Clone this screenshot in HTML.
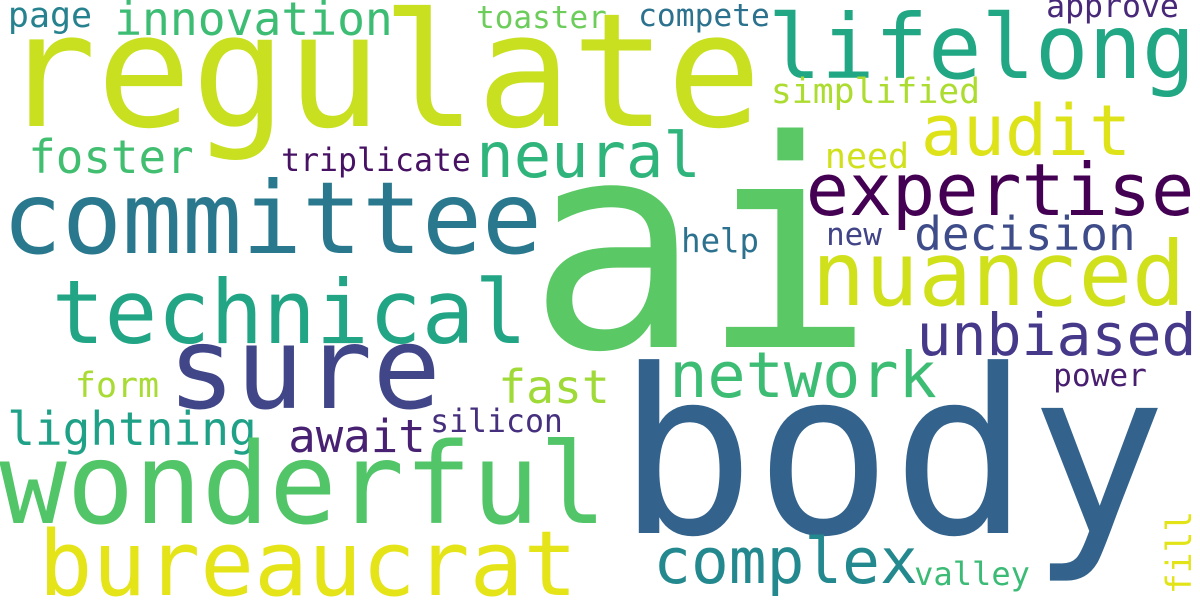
<!DOCTYPE html>
<html><head><meta charset="utf-8"><style>
html,body{margin:0;padding:0;background:#fff}
svg{display:block}
text{font-family:"DejaVu Sans Mono","Liberation Mono",monospace}
</style></head><body>
<svg id="cloud" width="1200" height="600" viewBox="0 0 1200 600" xmlns="http://www.w3.org/2000/svg">
<rect width="1200" height="600" fill="#ffffff"/>
</svg>
<script>
const words = ["page","innovation","toaster","compete","approve","regulate","lifelong","simplified","audit","neural","foster","triplicate","need","expertise","committee","decision","help","new","nuanced","technical","sure","ai","unbiased","network","power","form","fast","lightning","await","silicon","wonderful","body","bureaucrat","complex","valley"];
const inkLeft = [10,117,478,640,1048,11,773,773,925,480,31,283,827,810,8,917,683,828,817,57,174,545,920,673,1055,77,501,10,291,432,6,631,44,657,916];
const inkRight = [90,390,605,768,1177,752,1190,978,1127,697,191,469,907,1190,536,1133,757,880,1180,522,434,857,1193,933,1145,157,607,254,423,561,600,1153,572,914,1028];
const baselines = [27,35,28,26,17,126,78,103,155,177,173,171,168,215,253,250,252,245,305,343,408,347,355,397,386,397,403,445,452,432,523,533,595,583,585];
const colors = ["#26828e","#3dbc74","#6ccd5a","#2c728e","#482878","#c8e020","#22a785","#addc30","#dde318","#2fb47c","#42be71","#471164","#d0e11c","#440154","#2a788e","#3e4c8a","#2c728e","#414487","#d0e11c","#21a585","#404688","#5ac864","#46398a","#3dbc74","#481f70","#a8db34","#a0da39","#1fa187","#482173","#46307e","#52c569","#33638d","#e5e419","#23898e","#3bbb75"];
const rotWord = "fill";
const rotTop = 513, rotBottom = 592, rotBaselineX = 1191;

const svg = document.getElementById('cloud');
const NS = "http://www.w3.org/2000/svg";
for (let i = 0; i < words.length; i++) {
  const n = words[i].length;
  const w = inkRight[i] - inkLeft[i];
  const size = w / (0.6 * n - 0.12);
  const t = document.createElementNS(NS, 'text');
  t.setAttribute('x', (inkLeft[i] - 0.06 * size).toFixed(1));
  t.setAttribute('y', baselines[i]);
  t.setAttribute('font-size', size.toFixed(1));
  t.setAttribute('textLength', (0.6 * n * size).toFixed(1));
  t.setAttribute('lengthAdjust', 'spacingAndGlyphs');
  t.setAttribute('fill', colors[i]);
  
  
  t.textContent = words[i];
  svg.appendChild(t);
}
{
  const n = rotWord.length;
  const size = (rotBottom - rotTop) / (0.6 * n - 0.12);
  const t = document.createElementNS(NS, 'text');
  const sx = rotBaselineX, sy = rotBottom + 0.06 * size;
  t.setAttribute('x', sx);
  t.setAttribute('y', sy);
  t.setAttribute('transform', 'rotate(-90 ' + sx + ' ' + sy.toFixed(1) + ')');
  t.setAttribute('font-size', size.toFixed(1));
  t.setAttribute('textLength', (0.6 * n * size).toFixed(1));
  t.setAttribute('lengthAdjust', 'spacingAndGlyphs');
  t.setAttribute('fill', '#e2e418');
  
  
  t.textContent = rotWord;
  svg.appendChild(t);
}
</script>
</body></html>
